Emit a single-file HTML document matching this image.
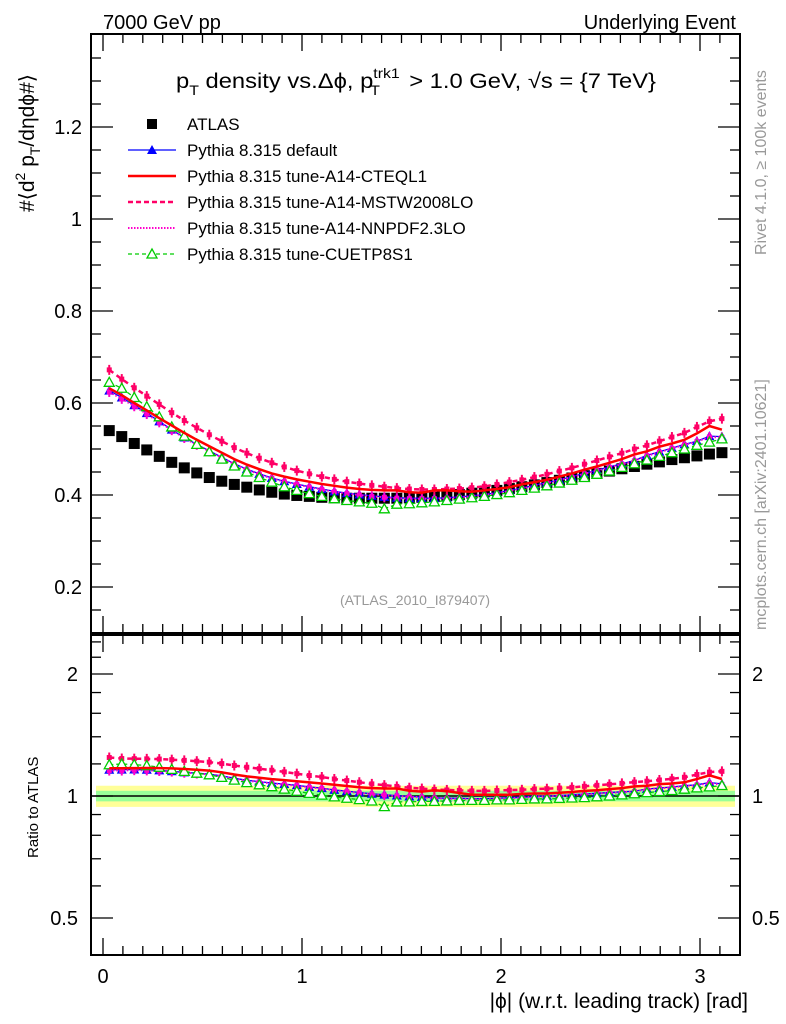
<!DOCTYPE html>
<html><head><meta charset="utf-8"><style>
html,body{margin:0;padding:0;background:#fff}
svg{display:block;font-family:"Liberation Sans",sans-serif}
</style></head><body>
<svg id="c" width="786" height="1024" viewBox="0 0 786 1024" xmlns="http://www.w3.org/2000/svg">
<text x="103" y="29" font-size="20">7000 GeV pp</text>
<text x="736" y="29" font-size="20" text-anchor="end">Underlying Event</text>
<text x="176" y="88" font-size="21" textLength="480" lengthAdjust="spacingAndGlyphs">p<tspan font-size="14" dy="7">T</tspan><tspan dy="-7"> density vs.Δϕ, p</tspan><tspan font-size="14" dy="-10">trk1</tspan><tspan font-size="14" dx="-26" dy="17">T</tspan><tspan dx="20" dy="-7"> &gt; 1.0 GeV, √s = {7 TeV}</tspan></text>
<text transform="translate(34,212) rotate(-90)" font-size="21">#⟨d<tspan font-size="14" dy="-9">2</tspan><tspan dy="9"> p</tspan><tspan font-size="14" dy="6">T</tspan><tspan dy="-6">/dηdϕ#⟩</tspan></text>
<text transform="translate(766,255) rotate(-90)" font-size="16" fill="#999">Rivet 4.1.0, ≥ 100k events</text>
<text transform="translate(766,630) rotate(-90)" font-size="16" fill="#999">mcplots.cern.ch [arXiv:2401.10621]</text>
<text x="415" y="605" font-size="14" fill="#999" text-anchor="middle">(ATLAS_2010_I879407)</text>
<text transform="translate(38,858) rotate(-90)" font-size="15">Ratio to ATLAS</text>
<text x="748" y="1008" font-size="21" text-anchor="end">|ϕ| (w.r.t. leading track) [rad]</text>
<g id="g"></g>
</svg>
<script>
const xEdges=[0,3.14159];
const atlas=[0.540,0.527,0.512,0.498,0.484,0.471,0.459,0.448,0.438,0.430,0.423,0.417,0.411,0.406,0.402,0.399,0.397,0.395,0.394,0.393,0.393,0.393,0.393,0.393,0.394,0.395,0.397,0.399,0.401,0.404,0.407,0.410,0.414,0.418,0.422,0.427,0.432,0.437,0.442,0.447,0.452,0.457,0.462,0.467,0.472,0.477,0.481,0.485,0.489,0.492];
const pyDefault=[0.627,0.612,0.595,0.578,0.560,0.542,0.525,0.510,0.496,0.482,0.468,0.456,0.446,0.437,0.430,0.424,0.418,0.413,0.408,0.404,0.401,0.398,0.396,0.394,0.393,0.393,0.393,0.394,0.396,0.398,0.401,0.405,0.410,0.415,0.421,0.427,0.433,0.440,0.447,0.454,0.461,0.468,0.475,0.486,0.494,0.502,0.510,0.517,0.528,0.527];
const pyCTEQL1=[0.632,0.617,0.600,0.584,0.567,0.551,0.535,0.520,0.506,0.492,0.478,0.466,0.456,0.447,0.440,0.434,0.429,0.424,0.420,0.416,0.413,0.411,0.410,0.410,0.406,0.405,0.410,0.410,0.408,0.407,0.410,0.413,0.417,0.423,0.428,0.433,0.440,0.447,0.455,0.462,0.470,0.478,0.488,0.495,0.505,0.512,0.520,0.534,0.550,0.542];
const pyMSTW=[0.672,0.652,0.633,0.615,0.597,0.579,0.562,0.546,0.531,0.517,0.503,0.491,0.480,0.470,0.461,0.453,0.446,0.440,0.434,0.429,0.425,0.421,0.418,0.415,0.413,0.412,0.412,0.413,0.414,0.416,0.419,0.423,0.428,0.433,0.439,0.445,0.452,0.459,0.467,0.475,0.483,0.491,0.500,0.508,0.517,0.526,0.535,0.548,0.560,0.566];
const pyNNPDF=[0.624,0.609,0.593,0.576,0.558,0.541,0.524,0.509,0.495,0.481,0.467,0.455,0.445,0.436,0.429,0.423,0.417,0.412,0.407,0.403,0.400,0.397,0.395,0.393,0.392,0.392,0.392,0.393,0.395,0.397,0.400,0.404,0.409,0.414,0.420,0.426,0.432,0.439,0.446,0.453,0.460,0.467,0.474,0.485,0.493,0.501,0.509,0.516,0.526,0.525];
const pyCUETP8S1=[0.645,0.632,0.612,0.592,0.570,0.548,0.528,0.510,0.494,0.478,0.463,0.450,0.438,0.428,0.418,0.410,0.403,0.397,0.392,0.388,0.385,0.382,0.370,0.380,0.381,0.383,0.385,0.388,0.391,0.394,0.397,0.401,0.405,0.410,0.415,0.420,0.426,0.432,0.438,0.445,0.452,0.460,0.468,0.476,0.484,0.492,0.500,0.508,0.515,0.522];
const yTicks=[0.2,0.4,0.6,0.8,1,1.2];
const yTickLabels=["0.2","0.4","0.6","0.8","1","1.2"];
const xTicks=[0,1,2,3];
const rTicks=[0.5,1,2];
const rTickLabels=["0.5","1","2"];

const NS="http://www.w3.org/2000/svg";
const G=document.getElementById('g');
const L=91,R=740,T=34,MB=633,RB=955;
const X=v=>103+v*199;
const Y=v=>587-(v-0.2)*460;
const YR=v=>796-122*Math.log2(v);
function mk(tag,a,p){const e=document.createElementNS(NS,tag);for(const k in a)e.setAttribute(k,a[k]);(p||G).appendChild(e);return e;}
function txt(x,y,s,anchor,size){const e=mk('text',{x:x,y:y,'font-size':size||19,'text-anchor':anchor||'end'});e.textContent=s;return e;}

let b=mk('rect',{x:L+5,y:YR(1.06),width:R-L-10,height:YR(0.94)-YR(1.06),fill:'#ffff99'});


b=mk('rect',{x:L+5,y:YR(1.03),width:R-L-10,height:YR(0.97)-YR(1.03),fill:'#99ff99'});


let ln=mk('line',{x1:L,x2:R,y1:YR(1),y2:YR(1),stroke:'#000','stroke-width':1.5});



let f=mk('rect',{x:L,y:T,width:R-L,height:MB-T,fill:'none',stroke:'#000','stroke-width':2});


f=mk('rect',{x:L,y:MB+2,width:R-L,height:RB-MB-2,fill:'none',stroke:'#000','stroke-width':2});



for(let i=0;i<=31;i++){const v=i/10;const x=X(v);const maj=i%10==0;const h=maj?17:9;
 [[T,1],[MB,-1],[MB+2,1],[RB,-1]].forEach(([y0,d])=>mk('line',{x1:x,x2:x,y1:y0,y2:y0+d*h,stroke:'#000','stroke-width':1.3}));}
xTicks.forEach(v=>{const t=txt(X(v),983,String(v),'middle',20);

});
for(let v=0.15;v<=1.4;v+=0.05){const y=Y(v);if(y<T+1||y>MB-1)continue;const maj=Math.abs(v*5-Math.round(v*5))<0.01;const h=maj?22:10;
 mk('line',{x1:L,x2:L+h,y1:y,y2:y,stroke:'#000','stroke-width':1.3});mk('line',{x1:R,x2:R-h,y1:y,y2:y,stroke:'#000','stroke-width':1.3});}
yTicks.forEach((v,i)=>{const t=txt(82,Y(v)+7,yTickLabels[i],'end',20);

});
[0.5,0.6,0.7,0.8,0.9,1,1.2,1.4,1.6,1.8,2,2.2,2.4].forEach(v=>{const y=YR(v);const maj=rTicks.includes(v);const h=maj?22:10;
 mk('line',{x1:L,x2:L+h,y1:y,y2:y,stroke:'#000','stroke-width':1.3});mk('line',{x1:R,x2:R-h,y1:y,y2:y,stroke:'#000','stroke-width':1.3});});
rTicks.forEach((v,i)=>{let t=txt(78,YR(v)+7,rTickLabels[i],'end',20);


t=txt(752,YR(v)+7,rTickLabels[i],'start',20);

});

const n=atlas.length,w=(xEdges[1]-xEdges[0])/n;
const xc=i=>X((i+0.5)*w);
const series=[
 {d:pyDefault,c:'#0000ff',dash:'',sw:1.3,m:'tri',name:'pythia-default'},
 {d:pyNNPDF,c:'#ff00cc',dash:'1.5,2',sw:2,m:'star',name:'pythia-a14-nnpdf'},
 {d:pyMSTW,c:'#ff0066',dash:'5,4',sw:2.5,m:'star',name:'pythia-a14-mstw'},
 {d:pyCUETP8S1,c:'#00cc00',dash:'4,3',sw:1.3,m:'otri',name:'pythia-cuetp8s1'},
 {d:pyCTEQL1,c:'#ff0000',dash:'',sw:2.5,m:'none',name:'pythia-a14-cteql1'}];
function marker(p,m,x,y,c){
 if(m=='tri')mk('path',{d:`M${x-5},${y+4}L${x+5},${y+4}L${x},${y-5}Z`,fill:c},p);
 else if(m=='otri')mk('path',{d:`M${x-5},${y+4}L${x+5},${y+4}L${x},${y-5}Z`,fill:'#fff',stroke:c,'stroke-width':1.3},p);
 else if(m=='star'){mk('rect',{x:x-2.5,y:y-2.5,width:5,height:5,fill:c},p);mk('line',{x1:x,x2:x,y1:y-5,y2:y+5,stroke:c,'stroke-width':2},p);}
 else if(m=='sq')mk('rect',{x:x-5.5,y:y-5.5,width:11,height:11,fill:c},p);
}
function drawSeries(s,yf,vals,tag){
 const g=mk('g',{});
 
 
 let d='';vals.forEach((v,i)=>{d+=(i?'L':'M')+xc(i).toFixed(1)+','+yf(v).toFixed(1);});
 const attrs={d:d,fill:'none',stroke:s.c,'stroke-width':s.sw};if(s.dash)attrs['stroke-dasharray']=s.dash;
 mk('path',attrs,g);
 vals.forEach((v,i)=>marker(g,s.m,xc(i),yf(v),s.c));
}
const ga=mk('g',{});


atlas.forEach((v,i)=>marker(ga,'sq',xc(i),Y(v),'#000'));
series.forEach(s=>drawSeries(s,Y,s.d,'main'));
series.forEach(s=>drawSeries(s,YR,s.d.map((v,i)=>v/atlas[i]),'ratio'));

const leg=[['ATLAS','sq','#000','',0],['Pythia 8.315 default','tri','#0000ff','',1.3],['Pythia 8.315 tune-A14-CTEQL1','none','#ff0000','',2.5],['Pythia 8.315 tune-A14-MSTW2008LO','none','#ff0066','5,3',2.5],['Pythia 8.315 tune-A14-NNPDF2.3LO','none','#ff00cc','1.5,1.5',2],['Pythia 8.315 tune-CUETP8S1','otri','#00cc00','4,3',1.3]];
leg.forEach((e,i)=>{const y=124+i*26;const g=mk('g',{});
 
 
 if(e[4]){const a={x1:128,x2:176,y1:y,y2:y,stroke:e[2],'stroke-width':e[4]};if(e[3])a['stroke-dasharray']=e[3];mk('line',a,g);}
 if(e[1]=='sq')mk('rect',{x:147,y:y-5,width:10,height:10,fill:'#000'},g);else marker(g,e[1],152,y,e[2]);
 const t=mk('text',{x:187,y:y+6,'font-size':17},g);t.textContent=e[0];});
</script>
</body></html>
